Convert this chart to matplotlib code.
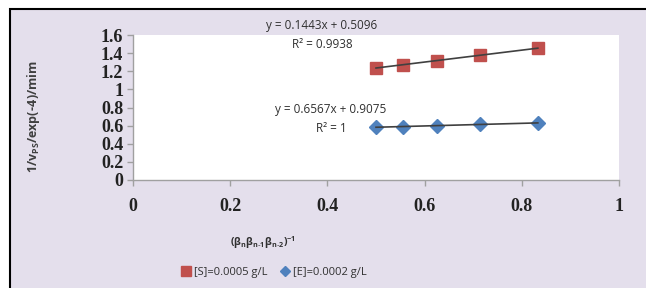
import numpy as np
import matplotlib
matplotlib.use("Agg")
import matplotlib.pyplot as plt
from matplotlib.patches import Rectangle
from matplotlib.ticker import FuncFormatter

x_vals = [0.5, 0.556, 0.625, 0.714, 0.833]
s_vals = [1.236, 1.272, 1.318, 1.376, 1.455]
e_vals = [0.582, 0.590, 0.600, 0.613, 0.630]
s_label = "[S]=0.0005 g/L"
e_label = "[E]=0.0002 g/L"
eq_top = ["y = 0.1443x + 0.5096", "R² = 0.9938"]
eq_bot = ["y = 0.6567x + 0.9075", "R² = 1"]
xticks = [0, 0.2, 0.4, 0.6, 0.8, 1]
yticks = [0, 0.2, 0.4, 0.6, 0.8, 1, 1.2, 1.4, 1.6]

W, H = 646, 288
fig = plt.figure(figsize=(W/100, H/100), dpi=100)
fig.patch.set_facecolor("white")
bg = Rectangle((10/W, -0.05), 1 - 10/W + 0.05, 1 - 9/H + 0.05, transform=fig.transFigure,
               facecolor="#e4dfec", edgecolor="black", linewidth=1.5, zorder=-10)
fig.patches.append(bg)

ax = fig.add_axes([133/W, 1 - 180/H, (619-133)/W, (180-35)/H])
ax.set_zorder(5)
ax.set_facecolor("white")
ax.set_xlim(0, 1)
ax.set_ylim(0, 1.6)
ax.set_xticks(xticks)
ax.set_yticks(yticks)
fmt = FuncFormatter(lambda v, p: "%g" % v)
ax.xaxis.set_major_formatter(fmt)
ax.yaxis.set_major_formatter(fmt)
for s in ["top", "right"]:
    ax.spines[s].set_visible(False)
for s in ["left", "bottom"]:
    ax.spines[s].set_color("#a0a0a0")
    ax.spines[s].set_linewidth(1)
ax.tick_params(direction="out", length=4, color="#a0a0a0", width=1)
ax.tick_params(axis="x", pad=9)
ax.tick_params(axis="y", pad=3)
for lab in ax.get_xticklabels() + ax.get_yticklabels():
    lab.set_fontfamily("Liberation Serif")
    lab.set_fontweight("bold")
    lab.set_fontsize(13)
    lab.set_color("#222222")

xa = np.array(x_vals)
for yv in (s_vals, e_vals):
    k, b = np.polyfit(xa, np.array(yv), 1)
    ax.plot([xa.min(), xa.max()], [k*xa.min()+b, k*xa.max()+b], color="#404040", lw=1.2, zorder=4)

ax.plot(x_vals, s_vals, ls="none", marker="s", ms=9, color="#c0504d", label=s_label, zorder=3, clip_on=False)
ax.plot(x_vals, e_vals, ls="none", marker="D", ms=7, color="#4f81bd", label=e_label, zorder=3, clip_on=False)

tf = dict(fontfamily="Open Sans", fontsize=8.5, color="#303030", ha="center", va="center", zorder=10)
fig.text(322/W, 1 - 26/H, eq_top[0], **tf)
fig.text(322/W, 1 - 44/H, eq_top[1], **tf)
fig.text(331/W, 1 - 110/H, eq_bot[0], **tf)
fig.text(331/W, 1 - 128/H, eq_bot[1], **tf)

fig.text(33/W, 1 - 117/H, r"1/v$_{\mathregular{PS}}$/exp(-4)/mim", rotation=90,
         fontfamily="Open Sans", fontweight="bold", fontsize=9, color="#404040",
         ha="center", va="center")
fig.text(263/W, 1 - 243/H, r"($\mathregular{\beta_n\beta_{n\text{-}1}\beta_{n\text{-}2}}$)$^{\mathregular{-1}}$",
         fontfamily="Open Sans", fontweight="bold", fontsize=7.5, color="#303030",
         ha="center", va="center")

leg = fig.legend(loc="center", bbox_to_anchor=(274/W, 1 - 272/H), ncol=2, frameon=False,
                 prop={"family": "Open Sans", "size": 8}, handlelength=0.8, handletextpad=0.3,
                 columnspacing=1.2, markerscale=0.8)
for t in leg.get_texts():
    t.set_color("#303030")

fig.savefig("out.png", dpi=100, facecolor=fig.get_facecolor())
